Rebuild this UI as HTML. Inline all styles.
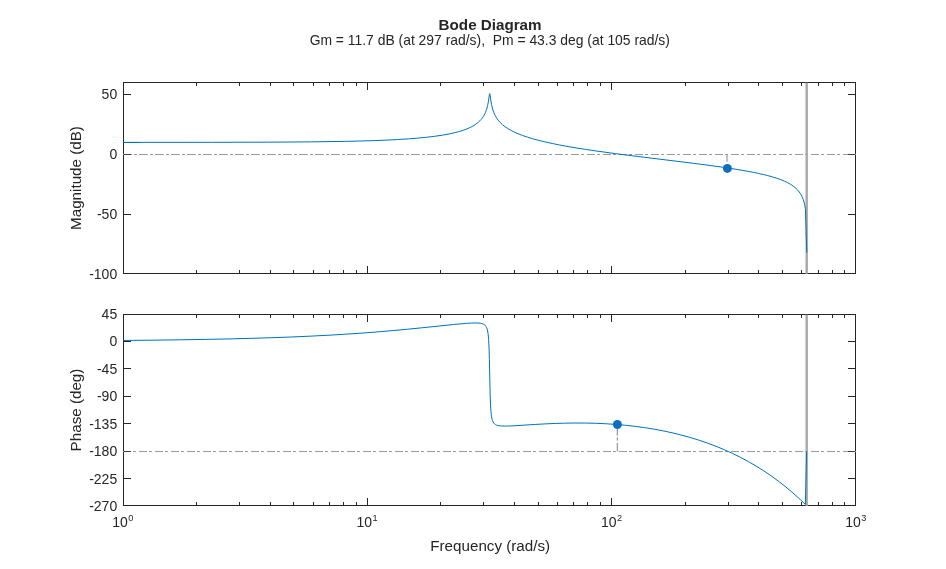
<!DOCTYPE html>
<html lang="en"><head><meta charset="utf-8"><title>Bode Diagram</title>
<style>html,body{margin:0;padding:0;background:#fff;overflow:hidden}svg{display:block}text{font-family:"Liberation Sans",Arial,Helvetica,sans-serif;fill:#262626}</style></head><body>
<svg width="946" height="569" viewBox="0 0 946 569">
<rect width="946" height="569" fill="#fff"/>
<!-- magnitude axes -->
<g stroke="#262626" stroke-width="1" fill="none" shape-rendering="crispEdges">
<rect x="123.5" y="82.5" width="732.0" height="191.0"/>
<path d="M196.5 273.5v-3.6M196.5 82.5v3.6M239.5 273.5v-3.6M239.5 82.5v3.6M270.5 273.5v-3.6M270.5 82.5v3.6M293.5 273.5v-3.6M293.5 82.5v3.6M313.5 273.5v-3.6M313.5 82.5v3.6M329.5 273.5v-3.6M329.5 82.5v3.6M343.5 273.5v-3.6M343.5 82.5v3.6M356.5 273.5v-3.6M356.5 82.5v3.6M367.5 273.5v-7.3M367.5 82.5v7.3M440.5 273.5v-3.6M440.5 82.5v3.6M483.5 273.5v-3.6M483.5 82.5v3.6M514.5 273.5v-3.6M514.5 82.5v3.6M538.5 273.5v-3.6M538.5 82.5v3.6M557.5 273.5v-3.6M557.5 82.5v3.6M573.5 273.5v-3.6M573.5 82.5v3.6M587.5 273.5v-3.6M587.5 82.5v3.6M600.5 273.5v-3.6M600.5 82.5v3.6M611.5 273.5v-7.3M611.5 82.5v7.3M685.5 273.5v-3.6M685.5 82.5v3.6M728.5 273.5v-3.6M728.5 82.5v3.6M758.5 273.5v-3.6M758.5 82.5v3.6M782.5 273.5v-3.6M782.5 82.5v3.6M801.5 273.5v-3.6M801.5 82.5v3.6M818.5 273.5v-3.6M818.5 82.5v3.6M832.5 273.5v-3.6M832.5 82.5v3.6M844.5 273.5v-3.6M844.5 82.5v3.6M123.5 94.5h7.3M855.5 94.5h-7.3M123.5 154.5h7.3M855.5 154.5h-7.3M123.5 214.5h7.3M855.5 214.5h-7.3"/>
</g>
<path d="M123 154.5H491" stroke="#9a9a9a" stroke-width="1" stroke-dasharray="9 2 3 2" fill="none" shape-rendering="crispEdges"/>
<path d="M491 154.5H856" stroke="#9a9a9a" stroke-width="1" stroke-dasharray="8 2 3 3" fill="none" shape-rendering="crispEdges"/>
<path d="M124 154.5H130.8M848.2 154.5H855" stroke="#3c3c3c" stroke-width="1" fill="none" shape-rendering="crispEdges"/>
<path d="M806.70 82.7V273.8" stroke="#a7a7a7" stroke-width="2.4" fill="none"/>
<path d="M727.00 154.5V168.4" stroke="#a6a6a6" stroke-width="1.4" stroke-dasharray="7.3 2.7 3 3" fill="none"/>
<path d="M123.20 142.38L211.57 142.32L268.54 142.16L311.36 141.86L344.80 141.38L359.98 141.03L373.80 140.62L386.25 140.13L397.68 139.55L408.26 138.88L417.81 138.13L426.68 137.26L434.70 136.30L442.38 135.16L449.20 133.92L455.34 132.55L458.24 131.79L460.97 130.99L463.53 130.16L465.92 129.29L468.14 128.39L470.19 127.46L472.06 126.50L473.94 125.43L475.64 124.33L477.18 123.21L478.54 122.08L479.91 120.80L481.10 119.51L482.13 118.25L483.12 116.85L483.97 115.48L484.77 113.97L485.50 112.37L486.12 110.80L486.68 109.14L487.63 105.51L488.41 101.40L489.38 94.59L489.55 93.81L489.70 93.57L489.86 93.84L490.04 94.71L490.89 100.86L491.50 104.39L492.16 107.35L492.92 110.06L493.94 112.89L495.15 115.51L496.63 118.05L498.16 120.20L500.21 122.54L502.43 124.64L504.99 126.67L507.72 128.51L510.79 130.29L514.37 132.10L518.12 133.75L522.39 135.40L527.33 137.09L532.79 138.75L538.76 140.37L545.25 141.95L552.24 143.49L559.92 145.04L568.11 146.54L576.98 148.05L585.51 149.40L594.72 150.78L615.53 153.64L637.37 156.42L693.66 163.33L709.02 165.33L722.15 167.15L736.14 169.28L748.25 171.36L753.71 172.41L758.66 173.44L763.26 174.48L767.53 175.53L772.31 176.84L776.74 178.22L780.83 179.68L784.42 181.16L787.66 182.71L790.56 184.34L793.12 186.04L795.51 187.95L797.55 189.95L799.26 191.99L800.79 194.27L801.99 196.50L803.18 199.36L804.04 202.05L804.72 204.86L805.40 208.76L806.80 252.50" stroke="#0072bd" stroke-width="1.00" fill="none" stroke-linejoin="bevel"/>
<path d="M123 142.5H140" stroke="#0072bd" stroke-width="1" fill="none" shape-rendering="crispEdges"/>
<circle cx="727.4" cy="168.4" r="4.5" fill="#0f6fbe"/>
<!-- phase axes -->
<g stroke="#262626" stroke-width="1" fill="none" shape-rendering="crispEdges">
<rect x="123.5" y="314.5" width="732.0" height="191.0"/>
<path d="M196.5 505.5v-3.6M196.5 314.5v3.6M239.5 505.5v-3.6M239.5 314.5v3.6M270.5 505.5v-3.6M270.5 314.5v3.6M293.5 505.5v-3.6M293.5 314.5v3.6M313.5 505.5v-3.6M313.5 314.5v3.6M329.5 505.5v-3.6M329.5 314.5v3.6M343.5 505.5v-3.6M343.5 314.5v3.6M356.5 505.5v-3.6M356.5 314.5v3.6M367.5 505.5v-7.3M367.5 314.5v7.3M440.5 505.5v-3.6M440.5 314.5v3.6M483.5 505.5v-3.6M483.5 314.5v3.6M514.5 505.5v-3.6M514.5 314.5v3.6M538.5 505.5v-3.6M538.5 314.5v3.6M557.5 505.5v-3.6M557.5 314.5v3.6M573.5 505.5v-3.6M573.5 314.5v3.6M587.5 505.5v-3.6M587.5 314.5v3.6M600.5 505.5v-3.6M600.5 314.5v3.6M611.5 505.5v-7.3M611.5 314.5v7.3M685.5 505.5v-3.6M685.5 314.5v3.6M728.5 505.5v-3.6M728.5 314.5v3.6M758.5 505.5v-3.6M758.5 314.5v3.6M782.5 505.5v-3.6M782.5 314.5v3.6M801.5 505.5v-3.6M801.5 314.5v3.6M818.5 505.5v-3.6M818.5 314.5v3.6M832.5 505.5v-3.6M832.5 314.5v3.6M844.5 505.5v-3.6M844.5 314.5v3.6M123.5 341.5h7.3M855.5 341.5h-7.3M123.5 368.5h7.3M855.5 368.5h-7.3M123.5 396.5h7.3M855.5 396.5h-7.3M123.5 423.5h7.3M855.5 423.5h-7.3M123.5 451.5h7.3M855.5 451.5h-7.3M123.5 478.5h7.3M855.5 478.5h-7.3"/>
</g>
<path d="M123 451.5H856" stroke="#9a9a9a" stroke-width="1" stroke-dasharray="8 2 3 3" fill="none" shape-rendering="crispEdges"/>
<path d="M124 451.5H130.8M848.2 451.5H855" stroke="#3c3c3c" stroke-width="1" fill="none" shape-rendering="crispEdges"/>
<path d="M806.70 314.7V505.8" stroke="#a7a7a7" stroke-width="2.4" fill="none"/>
<path d="M617.40 451.5V424.5" stroke="#9a9a9a" stroke-width="1.3" stroke-dasharray="8.5 2.5 3 2" fill="none"/>
<path d="M123.20 340.45L153.05 340.16L180.52 339.80L205.77 339.39L229.14 338.91L251.14 338.35L271.79 337.71L291.23 337.00L309.83 336.18L327.91 335.26L345.48 334.21L362.54 333.05L379.26 331.75L393.08 330.57L407.24 329.25L422.42 327.74L453.47 324.52L466.43 323.36L471.72 323.03L475.82 322.94L479.06 323.09L480.25 323.23L481.44 323.46L482.98 323.94L484.10 324.51L485.09 325.30L485.91 326.30L486.59 327.55L487.16 329.10L487.63 331.04L488.02 333.35L488.33 336.00L488.61 339.31L489.05 348.03L489.39 359.67L490.19 395.86L490.53 404.92L490.94 411.42L491.23 414.37L491.58 416.88L492.00 418.92L492.49 420.56L493.07 421.93L493.78 423.04L494.64 423.94L495.65 424.65L496.46 425.03L497.31 425.34L499.36 425.78L502.09 426.03L505.67 426.09L509.42 426.00L514.20 425.77L535.18 424.44L545.76 423.86L555.31 423.44L564.35 423.16L575.10 423.00L585.51 423.05L595.74 423.29L605.81 423.74L615.87 424.41L625.60 425.27L635.32 426.36L644.70 427.64L654.08 429.16L663.13 430.86L672.00 432.77L680.70 434.88L689.91 437.40L698.78 440.12L707.48 443.08L716.01 446.28L724.37 449.74L732.56 453.44L740.57 457.40L748.42 461.60L756.10 466.06L763.60 470.77L770.94 475.73L778.11 480.93L785.10 486.38L791.92 492.06L798.75 498.13L805.40 504.45L806.65 451.50" stroke="#0072bd" stroke-width="1.00" fill="none" stroke-linejoin="bevel"/>
<circle cx="617.4" cy="424.5" r="4.5" fill="#0f6fbe"/>
<text x="117.2" y="98.5" font-size="14.0" text-anchor="end">50</text>
<text x="117.2" y="159.4" font-size="14.0" text-anchor="end">0</text>
<text x="117.2" y="219.4" font-size="14.0" text-anchor="end">-50</text>
<text x="117.2" y="278.9" font-size="14.0" text-anchor="end">-100</text>
<text x="117.2" y="319.4" font-size="14.0" text-anchor="end">45</text>
<text x="117.2" y="346.4" font-size="14.0" text-anchor="end">0</text>
<text x="117.2" y="374.4" font-size="14.0" text-anchor="end">-45</text>
<text x="117.2" y="401.4" font-size="14.0" text-anchor="end">-90</text>
<text x="117.2" y="429.4" font-size="14.0" text-anchor="end">-135</text>
<text x="117.2" y="456.4" font-size="14.0" text-anchor="end">-180</text>
<text x="117.2" y="484.4" font-size="14.0" text-anchor="end">-225</text>
<text x="117.2" y="510.9" font-size="14.0" text-anchor="end">-270</text>
<text x="112.2" y="526.9" font-size="14.0">10<tspan font-size="9.2" dx="0.4" dy="-6.2">0</tspan></text>
<text x="356.5" y="526.9" font-size="14.0">10<tspan font-size="9.2" dx="0.4" dy="-6.2">1</tspan></text>
<text x="600.9" y="526.9" font-size="14.0">10<tspan font-size="9.2" dx="0.4" dy="-6.2">2</tspan></text>
<text x="845.2" y="526.9" font-size="14.0">10<tspan font-size="9.2" dx="0.4" dy="-6.2">3</tspan></text>
<text x="490.2" y="550.7" font-size="15.2" text-anchor="middle">Frequency (rad/s)</text>
<text transform="translate(81.25 178) rotate(-90)" font-size="15.2" text-anchor="middle">Magnitude (dB)</text>
<text transform="translate(81.25 410) rotate(-90)" font-size="15.2" text-anchor="middle">Phase (deg)</text>
<text x="490.1" y="29.5" font-size="15.2" font-weight="bold" text-anchor="middle" fill="#1a1a1a">Bode Diagram</text>
<text x="489.8" y="44.8" font-size="13.90" text-anchor="middle" xml:space="preserve" fill="#1a1a1a">Gm = 11.7 dB (at 297 rad/s),  Pm = 43.3 deg (at 105 rad/s)</text>
</svg></body></html>
